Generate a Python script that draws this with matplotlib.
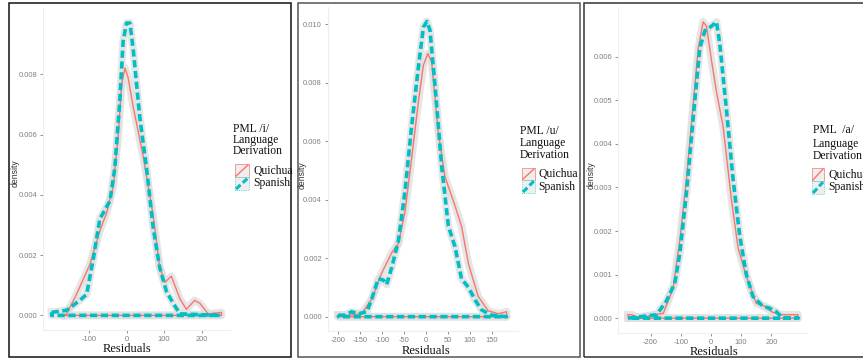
import numpy as np
import matplotlib
matplotlib.use('Agg')
import matplotlib.pyplot as plt
from matplotlib.patches import Rectangle
from matplotlib.lines import Line2D

plt.rcParams['font.family'] = ['Liberation Sans', 'DejaVu Sans']

W, H = 863, 358
RED = '#F8766D'
TEAL = '#00BFC4'
HALO = '#dedede'

# ---- data ----
# panel /i/
i_quichua_x = [-165, -159, -133, -97, -71, -53, -35, -22, -13, -4, 4, 18, 44, 71, 88, 102, 119, 142, 159, 181, 195, 217, 252]
i_quichua_y = [0.0, 0.00005, 0.0007, 0.0017, 0.0028, 0.0034, 0.0043, 0.006, 0.0077, 0.0082, 0.0079, 0.0069, 0.0053, 0.0033, 0.0016, 0.0011, 0.0013, 0.00055, 0.0002, 0.0005, 0.0004, 0.00005, 0.0001]
i_spanish_x = [-199, -159, -124, -106, -88, -71, -44, -31, -18, -9, 0, 9, 18, 35, 53, 71, 88, 106, 124, 142, 248]
i_spanish_y = [0.0001, 0.00017, 0.0005, 0.0007, 0.0019, 0.0032, 0.0038, 0.0049, 0.0071, 0.0091, 0.0097, 0.0097, 0.0088, 0.0066, 0.0049, 0.0029, 0.0016, 0.0008, 0.0004, 0.00005, 0.0]

# panel /u/
u_quichua_x = [-200, -177, -147, -124, -101, -78, -63, -48, -33, -17, -6, 4, 13, 28, 43, 66, 81, 97, 119, 142, 165, 184]
u_quichua_y = [0.00005, 0.00005, 0.0001, 0.0006, 0.0015, 0.0022, 0.0025, 0.0036, 0.0054, 0.0074, 0.0086, 0.009, 0.0087, 0.0063, 0.0048, 0.0038, 0.0031, 0.0018, 0.0007, 0.0002, 0.0001, 0.00017]
u_spanish_x = [-200, -185, -170, -154, -135, -124, -109, -97, -90, -78, -63, -48, -33, -17, -6, 2, 9, 21, 36, 51, 66, 81, 97, 112, 127, 150, 184]
u_spanish_y = [0.00005, 0.00005, 0.00017, 0.0001, 0.00017, 0.0006, 0.0013, 0.00125, 0.0011, 0.0017, 0.0026, 0.0043, 0.0065, 0.0086, 0.0099, 0.0101, 0.0098, 0.0078, 0.0051, 0.0031, 0.0024, 0.0013, 0.001, 0.00057, 0.00023, 0.00005, 0.0]

# panel /a/
a_quichua_x = [-274, -263, -235, -190, -158, -125, -103, -81, -59, -42, -26, -15, 2, 18, 40, 68, 90, 117, 150, 178, 200, 228, 288]
a_quichua_y = [0.00008, 0.00008, 0.0, 0.00008, 0.00011, 0.0007, 0.0018, 0.0032, 0.0049, 0.0062, 0.0068, 0.0067, 0.0059, 0.0052, 0.0044, 0.0027, 0.0016, 0.00096, 0.00034, 0.00027, 0.00015, 0.00008, 0.00008]
a_spanish_x = [-274, -180, -147, -120, -103, -81, -59, -37, -20, 2, 18, 29, 51, 73, 95, 117, 139, 172, 194, 216, 238, 288]
a_spanish_y = [0.0, 0.00008, 0.0004, 0.0008, 0.0015, 0.0029, 0.0046, 0.0062, 0.0066, 0.0067, 0.0068, 0.0063, 0.0048, 0.0032, 0.0019, 0.001, 0.0005, 0.00027, 0.00023, 0.00015, 0.0, 0.0]

groups = ['Quichua', 'Spanish']
titles = ['PML /i/', 'PML /u/', 'PML  /a/']

i_xticks = [-100, 0, 100, 200]
u_xticks = [-200, -150, -100, -50, 0, 50, 100, 150]
a_xticks = [-200, -100, 0, 100, 200]
i_yticks = [0.0, 0.002, 0.004, 0.006, 0.008]
u_yticks = [0.0, 0.002, 0.004, 0.006, 0.008, 0.010]
a_yticks = [0.0, 0.001, 0.002, 0.003, 0.004, 0.005, 0.006]


def fx(x):
    return x / W


def fy(y):
    return 1 - y / H


fig = plt.figure(figsize=(W / 100, H / 100), dpi=100)

panels = [
    dict(q=(i_quichua_x, i_quichua_y), s=(i_spanish_x, i_spanish_y), xt=i_xticks, yt=i_yticks,
         box=(43, 230, 8, 330), xlim=(-222, 275), ylim=(-0.000485, 0.0102),
         border=(9, 291, 3, 357), bcol='#111111',
         xlab=(127, 349), ylab=(15, 173),
         leg=dict(tx=233, ty=[129, 140, 151], kx=(235, 249), ky=[(164, 177), (177, 190)], lx=253, ly=[171, 183])),
    dict(q=(u_quichua_x, u_quichua_y), s=(u_spanish_x, u_spanish_y), xt=u_xticks, yt=u_yticks,
         box=(327.5, 518, 6.8, 331.3), xlim=(-225, 210), ylim=(-0.0005, 0.0106),
         border=(298, 580, 3, 357), bcol='#555555',
         xlab=(426, 351), ylab=(302, 175),
         leg=dict(tx=520, ty=[131, 143, 155], kx=(522, 535), ky=[(168, 180), (180, 193)], lx=538, ly=[174, 187])),
    dict(q=(a_quichua_x, a_quichua_y), s=(a_spanish_x, a_spanish_y), xt=a_xticks, yt=a_yticks,
         box=(618, 807, 7, 333), xlim=(-308, 318), ylim=(-0.00034, 0.00714),
         border=(584, 872, 3, 357), bcol='#333333',
         xlab=(714, 352), ylab=(591, 175),
         leg=dict(tx=813, ty=[130, 144, 156], kx=(812, 824), ky=[(168, 181), (181, 194)], lx=828, ly=[175, 187])),
]

for p, title in zip(panels, titles):
    l, r, t, b = p['box']
    ax = fig.add_axes([fx(l), fy(b), fx(r - l), (b - t) / H])
    ax.set_facecolor('white')

    for (xs, ys), col, ls, lw in [(p['q'], RED, '-', 1.0), (p['s'], TEAL, (0, (2, 1)), 2.6)]:
        xs = list(xs)
        ys = list(ys)
        # closed outline like a density polygon
        cx = xs + [xs[-1], xs[0], xs[0]]
        cy = ys + [0, 0, ys[0]]
        ax.plot(cx, cy, color=HALO, lw=5.5, alpha=0.75, solid_joinstyle='round', zorder=1)
        ax.plot(cx, cy, color=col, lw=lw, linestyle=ls, zorder=3 if col == TEAL else 2)

    ax.set_xlim(*p['xlim'])
    ax.set_ylim(*p['ylim'])
    ax.set_xticks(p['xt'])
    ax.set_xticklabels([str(v) for v in p['xt']])
    ax.set_yticks(p['yt'])
    ax.set_yticklabels(['%.3f' % v for v in p['yt']])
    ax.tick_params(colors='#7f7f7f', labelsize=5.4, length=2.5, width=0.6, pad=1.5)
    for side in ['top', 'right']:
        ax.spines[side].set_visible(False)
    for side in ['left', 'bottom']:
        ax.spines[side].set_color('#eeeeee')
        ax.spines[side].set_linewidth(0.8)

    fig.text(fx(p['xlab'][0]), fy(p['xlab'][1]), 'Residuals', family='Liberation Serif',
             fontsize=9, ha='center', va='center', color='#111111')
    fig.text(fx(p['ylab'][0]), fy(p['ylab'][1]), 'density', fontsize=6.2, rotation=90,
             ha='center', va='center', color='#333333')

    # border around each panel
    x0, x1, y0, y1 = p['border']
    fig.add_artist(Rectangle((fx(x0), fy(y1)), fx(x1 - x0), (y1 - y0) / H, transform=fig.transFigure,
                             fill=False, edgecolor=p['bcol'], lw=1.1))

    # legend
    lg = p['leg']
    for line, yy in zip([title, 'Language', 'Derivation'], lg['ty']):
        fig.text(fx(lg['tx']), fy(yy), line, family='Liberation Serif', fontsize=8.4,
                 ha='left', va='center', color='#111111')
    for g, col, ls, lw, (ka, kb), ly in zip(groups, [RED, TEAL], ['-', (0, (2, 1))], [1.0, 2.2],
                                             lg['ky'], lg['ly']):
        kx0, kx1 = lg['kx']
        fig.add_artist(Rectangle((fx(kx0), fy(kb)), fx(kx1 - kx0), (kb - ka) / H, transform=fig.transFigure,
                                 facecolor='#eeeeee', edgecolor=col, lw=0.5,
                                 linestyle='-' if col == RED else ':'))
        fig.add_artist(Line2D([fx(kx0 + 1), fx(kx1 - 1)], [fy(kb - 1), fy(ka + 1)], transform=fig.transFigure,
                              color=col, lw=lw, linestyle=ls))
        fig.text(fx(lg['lx']), fy(ly), g, family='Liberation Serif', fontsize=8.4,
                 ha='left', va='center', color='#111111')

fig.savefig('out.png', dpi=100)
